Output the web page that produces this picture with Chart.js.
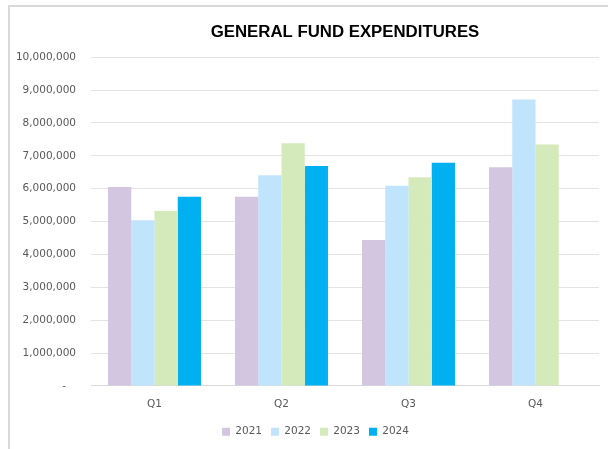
<!DOCTYPE html>
<html>
<head>
<meta charset="utf-8">
<script src="https://cdn.jsdelivr.net/npm/chart.js@4"></script>
<style>
  html, body { margin: 0; padding: 0; background: #fff; overflow: hidden; }
</style>
</head>
<body>
<canvas id="myChart" width="608" height="449"></canvas>
<script>
'use strict';

var quarters = ['Q1', 'Q2', 'Q3', 'Q4'];
var years = ['2021', '2022', '2023', '2024'];
var spend2021 = [6050000, 5750000, 4440000, 6650000];
var spend2022 = [5040000, 6410000, 6090000, 8710000];
var spend2023 = [5320000, 7380000, 6350000, 7340000];
var spend2024 = [5750000, 6690000, 6790000, null];
var yearColors = ['#d3c6e0', '#c0e4fc', '#d5eabb', '#00b0f0'];

var textGrey = '#595959';
var tickFont = { family: 'DejaVu Sans', size: 10.5 };
var ctx = document.getElementById('myChart').getContext('2d');

// legend in the original sits a bit right of the canvas centre
var nudgeLegend = {
  id: 'nudgeLegend',
  afterLayout: function (chart) {
    chart.legend.left += 16;
    chart.legend.right += 16;
  }
};

// grey frame on the top and left edge of the chart object
var chartFrame = {
  id: 'chartFrame',
  beforeDraw: function (chart) {
    var c = chart.ctx;
    c.save();
    c.strokeStyle = '#d9d9d9';
    c.lineWidth = 2;
    c.beginPath();
    c.moveTo(9, chart.height);
    c.lineTo(9, 6);
    c.lineTo(chart.width, 6);
    c.stroke();
    c.restore();
  }
};

var myChart = new Chart(ctx, {
  type: 'bar',
  data: {
    labels: quarters,
    datasets: [spend2021, spend2022, spend2023, spend2024].map(function (vals, i) {
      return {
        label: years[i],
        data: vals,
        backgroundColor: yearColors[i],
        borderWidth: 0,
        categoryPercentage: 0.732,
        barPercentage: 1
      };
    })
  },
  plugins: [nudgeLegend, chartFrame],
  options: {
    responsive: false,
    animation: false,
    layout: { padding: { left: 0, right: 9, bottom: 2 } },
    plugins: {
      title: {
        display: true,
        fullSize: false,
        text: 'GENERAL FUND EXPENDITURES',
        color: '#000',
        font: { family: 'Liberation Sans', size: 16.8, weight: 'bold' },
        padding: { top: 22, bottom: 15 }
      },
      legend: {
        position: 'bottom',
        labels: {
          boxWidth: 8,
          boxHeight: 8,
          padding: 9,
          color: textGrey,
          font: tickFont
        }
      },
      tooltip: { enabled: false }
    },
    scales: {
      x: {
        afterFit: function (scale) { scale.height -= 5; },
        grid: { display: false, drawTicks: false },
        border: { color: '#d9d9d9' },
        ticks: { color: textGrey, padding: 12, font: tickFont }
      },
      y: {
        min: 0,
        max: 10000000,
        afterFit: function (scale) { scale.width = 91; },
        grid: { color: '#e3e3e3', drawTicks: false },
        border: { display: false },
        ticks: {
          stepSize: 1000000,
          padding: 15,
          color: textGrey,
          font: tickFont,
          callback: function (v) { return v === 0 ? '-   ' : v.toLocaleString('en-US'); }
        }
      }
    }
  }
});
</script>
</body>
</html>
